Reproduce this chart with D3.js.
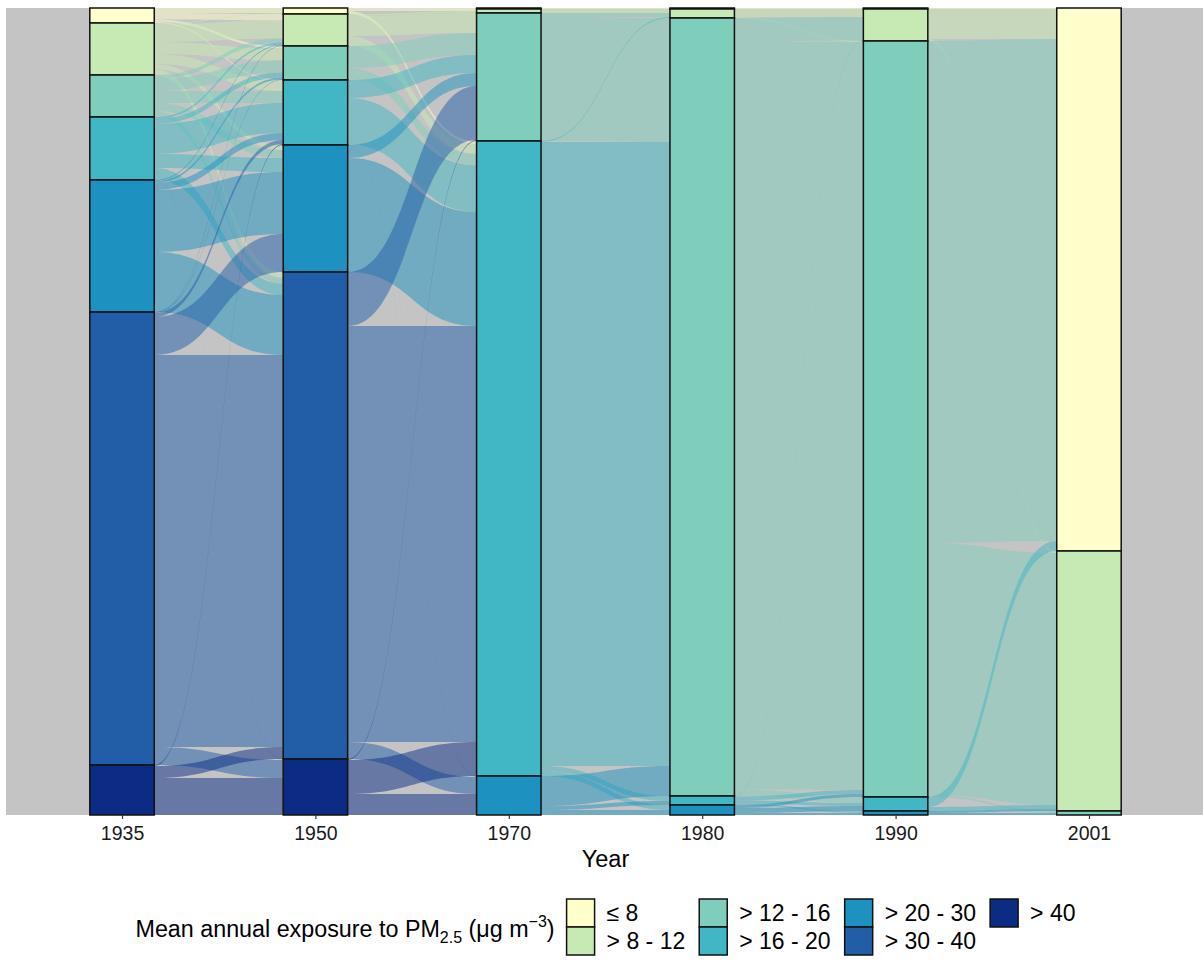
<!DOCTYPE html>
<html lang="en">
<head>
<meta charset="utf-8">
<script src="https://d3js.org/d3.v7.min.js"></script>
<style>
  body { margin: 0; background: #fff; }
  text { font-family: "Liberation Sans", Arial, sans-serif; }
</style>
</head>
<body>
<div id="plot"></div>
<script>
// years on the x axis and exposure classes (top of each bar = first class)
const years = ["1935", "1950", "1970", "1980", "1990", "2001"];
const categories = ["≤ 8", "> 8 - 12", "> 12 - 16", "> 16 - 20", "> 20 - 30", "> 30 - 40", "> 40"];
const colors = ["#ffffcc", "#c7e9b4", "#7fcdbb", "#41b6c4", "#1d91c0", "#225ea8", "#0c2c84"];

// flows between neighbouring years: row = class in the earlier year, column = class in the later year
// (share of the total)
const flows1935to1950 = [
  [5, 6.5, 2.5, 1, 0, 0, 0],
  [1, 18, 12, 10, 5, 6, 0],
  [0, 4, 12, 12, 8, 5.5, 0.5],
  [0, 2, 5, 30, 14, 11.5, 0.5],
  [0, 1, 2, 7, 62, 60, 0],
  [0, 0.5, 0.5, 4, 38, 392, 18],
  [0, 0, 0, 1, 0, 12, 37]
];
const flows1950to1970 = [
  [1, 2, 0, 3, 0, 0, 0],
  [0, 2, 20, 10, 0, 0, 0],
  [0, 0, 22, 11.5, 0.5, 0, 0],
  [0, 0, 18, 46.5, 0.5, 0, 0],
  [0, 0, 13, 114, 0, 0, 0],
  [0, 0, 54, 416, 17, 0, 0],
  [0, 0, 1, 34, 21, 0, 0]
];
const flows1970to1980 = [
  [1, 0, 0, 0, 0, 0, 0],
  [0, 4, 0, 0, 0, 0, 0],
  [0, 4, 124, 0, 0, 0, 0],
  [0, 1, 624, 5, 5, 0, 0],
  [0, 0, 30, 4, 5, 0, 0],
  [0, 0, 0, 0, 0, 0, 0],
  [0, 0, 0, 0, 0, 0, 0]
];
const flows1980to1990 = [
  [1, 0, 0, 0, 0, 0, 0],
  [0, 8, 1, 0, 0, 0, 0],
  [0, 23.5, 748, 6, 0.5, 0, 0],
  [0, 0.5, 4, 3, 1.5, 0, 0],
  [0, 0, 3, 5, 2, 0, 0],
  [0, 0, 0, 0, 0, 0, 0],
  [0, 0, 0, 0, 0, 0, 0]
];
const flows1990to2001 = [
  [1, 0, 0, 0, 0, 0, 0],
  [30, 2, 0, 0, 0, 0, 0],
  [502, 252, 2, 0, 0, 0, 0],
  [10, 4, 0, 0, 0, 0, 0],
  [0, 2, 2, 0, 0, 0, 0],
  [0, 0, 0, 0, 0, 0, 0],
  [0, 0, 0, 0, 0, 0, 0]
];
const transitions = [flows1935to1950, flows1950to1970, flows1970to1980, flows1980to1990, flows1990to2001];

function drawChart() {
  const width = 1203, height = 961;
  const panel = {left: 6, right: 1205, top: 8, bottom: 815};

  // stratum sizes: row sums for each year, column sums for the last one
  const strata = transitions.map(m => m.map(r => d3.sum(r)));
  const last = transitions[transitions.length - 1];
  strata.push(categories.map((c, j) => d3.sum(last, r => r[j])));
  const total = d3.sum(strata[0]);

  const x = d3.scalePoint().domain(years).range([panel.left, panel.right]).padding(0.6);
  const y = d3.scaleLinear().domain([0, total]).range([panel.top, panel.bottom]);
  const barW = x.step() / 3;
  const color = d3.scaleOrdinal().domain(categories).range(colors);

  const svg = d3.select('#plot').append('svg')
      .attr('width', width)
      .attr('height', height);

  // grey panel
  svg.append('rect')
      .attr('x', panel.left).attr('y', panel.top)
      .attr('width', panel.right - panel.left)
      .attr('height', panel.bottom - panel.top)
      .attr('fill', '#c4c4c4');

  // cumulative tops of every stratum
  const tops = strata.map(s => {
    let c = 0;
    return s.map(v => { const t = c; c += v; return t; });
  });

  const flowG = svg.append('g');
  transitions.forEach((m, t) => {
    const x0 = x(years[t]) + barW / 2;
    const x1 = x(years[t + 1]) - barW / 2;
    const xm = (x0 + x1) / 2;
    // outgoing side: inside a class, sorted by destination class
    const src = m.map((r, a) => {
      let c = tops[t][a];
      return r.map(v => { const s = c; c += v; return s; });
    });
    // incoming side: inside a class, sorted by origin class
    const dst = m.map(r => r.map(() => 0));
    categories.forEach((cat, b) => {
      let c = tops[t + 1][b];
      m.forEach((r, a) => { dst[a][b] = c; c += r[b]; });
    });
    const list = [];
    m.forEach((r, a) => r.forEach((v, b) => {
      if (v > 0) list.push({a, b, v, s: src[a][b], d: dst[a][b]});
    }));
    flowG.selectAll(null)
      .data(list)
      .join('path')
        .attr('d', f => {
          const s0 = y(f.s), s1 = y(f.s + f.v), d0 = y(f.d), d1 = y(f.d + f.v);
          return `M${x0},${s0}C${xm},${s0} ${xm},${d0} ${x1},${d0}` +
                 `L${x1},${d1}C${xm},${d1} ${xm},${s1} ${x0},${s1}Z`;
        })
        .attr('fill', f => colors[f.a])
        .attr('fill-opacity', 0.5);
  });

  // strata (bars)
  const bars = [];
  strata.forEach((s, i) => s.forEach((v, k) => {
    if (v > 0) bars.push({year: years[i], k, top: tops[i][k], v});
  }));
  svg.append('g').selectAll('rect')
    .data(bars)
    .join('rect')
      .attr('x', d => x(d.year) - barW / 2)
      .attr('y', d => y(d.top))
      .attr('width', barW)
      .attr('height', d => y(d.top + d.v) - y(d.top))
      .attr('fill', d => color(categories[d.k]))
      .attr('stroke', '#111')
      .attr('stroke-width', 1.5);

  // x axis
  const ax = svg.append('g')
      .attr('transform', `translate(0, ${panel.bottom})`)
      .call(d3.axisBottom(x).tickSize(4).tickPadding(7));
  ax.select('.domain').remove();
  ax.selectAll('.tick line').attr('stroke', '#333').attr('stroke-width', 1.2);
  ax.selectAll('.tick text')
      .attr('font-size', 19.5)
      .attr('font-family', '"Liberation Sans", Arial, sans-serif')
      .attr('fill', '#1a1a1a');

  svg.append('text')
      .attr('x', (panel.left + panel.right) / 2)
      .attr('y', 867)
      .attr('text-anchor', 'middle')
      .attr('font-size', 23.5)
      .attr('fill', '#000')
      .text('Year');

  // legend
  const leg = svg.append('g');
  const title = leg.append('text')
      .attr('y', 937)
      .attr('font-size', 23.3)
      .attr('fill', '#000');
  title.append('tspan').text('Mean annual exposure to PM');
  title.append('tspan').attr('font-size', 16).attr('dy', 6).text('2.5');
  title.append('tspan').attr('dy', -6).text(' (μg m');
  title.append('tspan').attr('font-size', 16).attr('dy', -10).text('−3');
  title.append('tspan').attr('dy', 10).text(')');
  const titleW = title.node().getComputedTextLength();

  const keySize = 28, rowTop = 899;
  const cols = d3.range(Math.ceil(categories.length / 2));
  let cx = titleW + 12;
  cols.forEach(c => {
    let maxW = 0;
    [0, 1].forEach(r => {
      const k = c * 2 + r;
      if (k >= categories.length) return;
      const it = leg.append('g').attr('transform', `translate(${cx}, ${rowTop + r * keySize})`);
      it.append('rect')
          .attr('width', keySize).attr('height', keySize)
          .attr('fill', colors[k])
          .attr('stroke', '#111').attr('stroke-width', 1.5);
      const lab = it.append('text')
          .attr('x', keySize + 12)
          .attr('y', keySize / 2)
          .attr('dy', '0.36em')
          .attr('font-size', 23)
          .attr('fill', '#000')
          .text(categories[k]);
      maxW = Math.max(maxW, lab.node().getComputedTextLength());
    });
    cx += keySize + 12 + maxW + 14;
  });
  const legW = cx - 14;
  leg.attr('transform', `translate(${(panel.left + panel.right) / 2 - legW / 2}, 0)`);
}

window.onload = drawChart;
</script>
</body>
</html>
